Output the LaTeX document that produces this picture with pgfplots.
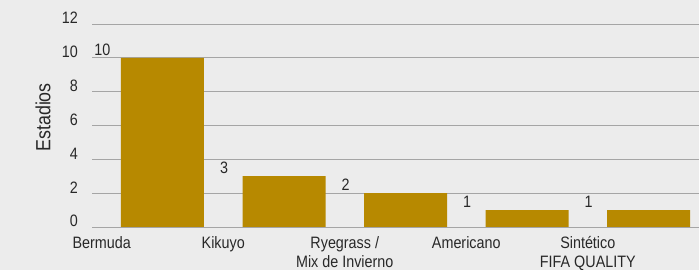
\documentclass[border=0pt]{standalone}
\usepackage{fontspec}
\setmainfont{Liberation Sans}[FakeStretch=0.87]
\usepackage{pgfplots}
\pgfplotsset{compat=1.18}
\definecolor{bg}{RGB}{236,236,236}
\definecolor{gold}{RGB}{183,137,0}
\definecolor{gridc}{RGB}{165,165,165}
\definecolor{txt}{RGB}{40,40,40}
\begin{document}
\begin{tikzpicture}[x=1pt,y=1pt]
\fill[bg] (0,0) rectangle (699,270);
\useasboundingbox (0,0) rectangle (699,270);
\begin{axis}[
  at={(92pt,43pt)}, anchor=south west,
  scale only axis, width=607pt, height=203pt,
  xmin=0.42, xmax=5.415, ymin=0, ymax=12,
  axis line style={draw=none}, tick style={draw=none},
  ymajorgrids, grid style={gridc, line width=0.9pt},
  ytick={0,2,...,12},
  xtick={0.5,1.5,2.5,3.5,4.5},
  xticklabels={Bermuda, Kikuyo, {Ryegrass /\\Mix de Invierno}, Americano, {Sintético\\FIFA QUALITY}},
  ticklabel style={font=\fontsize{16.5}{19}\selectfont, text=txt},
  xticklabel style={align=center, anchor=north, inner sep=0pt, yshift=-9pt},
  yticklabel style={anchor=base east, inner sep=0pt, xshift=-14pt},
  /pgf/number format/assume math mode=true,
  ylabel={Estadios},
  every axis y label/.style={at={(axis description cs:-0.0807,0.54)}, rotate=90, anchor=center, font=\fontsize{20.5}{24}\selectfont, text=txt},
  nodes near coords,
  nodes near coords style={anchor=base, xshift=-60pt, yshift=2.5pt, font=\fontsize{16.5}{19}\selectfont, text=txt},
]
\addplot[ybar, bar width=0.683, fill=gold, draw=none] coordinates {(1,10) (2,3) (3,2) (4,1) (5,1)};
\end{axis}
\end{tikzpicture}
\end{document}
